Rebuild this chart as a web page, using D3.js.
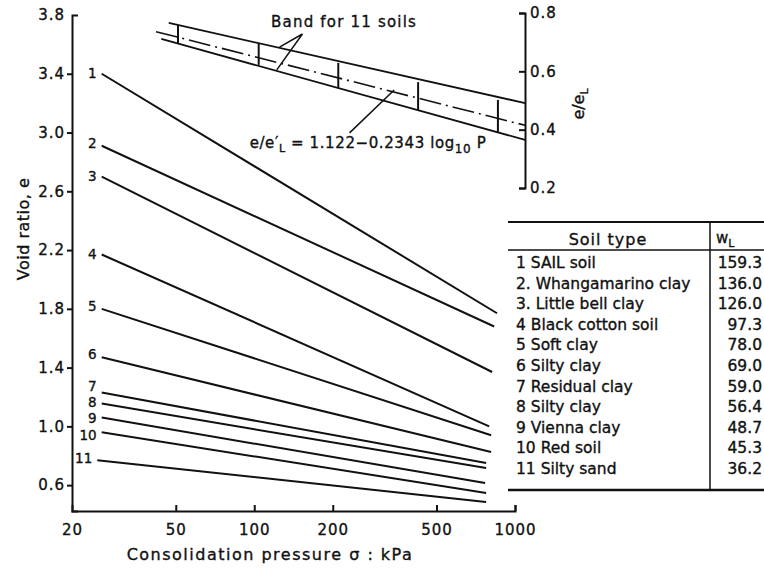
<!DOCTYPE html>
<html>
<head>
<meta charset="utf-8">
<script src="https://cdn.jsdelivr.net/npm/d3@7"></script>
<style>
  html, body { margin: 0; padding: 0; background: #fff; }
  svg { display: block; font-family: 'DejaVu Sans', sans-serif; }
  svg text { fill: #111; stroke: #111; stroke-width: 0.35px; }
  .axis path, .axis line { stroke: #111; stroke-width: 2; }
  .axis text { font-size: 15px; font-family: 'DejaVu Sans', sans-serif; letter-spacing: 1px; }
</style>
</head>
<body>
<div id="chart"></div>
<script>
// e - log p lines for 11 soils
const soilIds = [1, 2, 3, 4, 5, 6, 7, 8, 9, 10, 11];
const pStart = [26, 26, 26, 26, 26, 26, 26, 26, 26, 26, 25];
const eStart = [3.40, 2.91, 2.70, 2.17, 1.80, 1.47, 1.23, 1.155, 1.06, 0.96, 0.77];
const pEnd = [853, 832, 817, 796, 810, 810, 775, 775, 768, 775, 775];
const eEnd = [1.77, 1.68, 1.37, 1.00, 0.94, 0.825, 0.75, 0.716, 0.614, 0.546, 0.485];
// small vertical nudges (px) so the crowded number labels don't collide
const labelNudge = [0, -2, 0, 0, -2, -3, -6, -1, 1, 3, -2];

// normalised band (e/eL) for all soils
const bandUpperP = [47, 1093], bandUpper = [0.766, 0.491];
const bandLowerP = [44, 1093], bandLower = [0.711, 0.365];
const bandMidP = [42, 1093], bandMid = [0.736, 0.415];
const barP = [51, 104, 210, 425, 860];
const barTop = [0.759, 0.697, 0.629, 0.563, 0.502];
const barBottom = [0.697, 0.622, 0.543, 0.467, 0.389];

// table
const soilTypes = ['1 SAIL soil', '2. Whangamarino clay', '3. Little bell clay', '4 Black cotton soil',
  '5 Soft clay', '6 Silty clay', '7 Residual clay', '8 Silty clay', '9 Vienna clay', '10 Red soil', '11 Silty sand'];
const liquidLimit = ['159.3', '136.0', '126.0', '97.3', '78.0', '69.0', '59.0', '56.4', '48.7', '45.3', '36.2'];

// ticks
const pTicks = [20, 50, 100, 200, 500, 1000];
const eTicks = [0.6, 1.0, 1.4, 1.8, 2.2, 2.6, 3.0, 3.4, 3.8];
const ratioTicks = [0.2, 0.4, 0.6, 0.8];

const W = 764, H = 571;
const svg = d3.select('#chart').append('svg').attr('width', W).attr('height', H);

const x = d3.scaleLog().domain([20, 1000]).range([72, 515]);
const y = d3.scaleLinear().domain([0.424, 3.8]).range([511, 15]);
const yR = d3.scaleLinear().domain([0.2, 0.8]).range([188, 13]);
const rightAxisX = 525;

// left axis
const gy = svg.append('g').attr('class', 'axis')
    .attr('transform', `translate(${x(20)},0)`)
    .call(d3.axisLeft(y).tickValues(eTicks).tickFormat(d3.format('.1f'))
        .tickSizeInner(5).tickSizeOuter(-6).tickPadding(2));
gy.selectAll('.tick').filter(d => d === 3.8).select('line').remove();

// bottom axis
const gx = svg.append('g').attr('class', 'axis')
    .attr('transform', `translate(0,${y(0.424)})`)
    .call(d3.axisBottom(x).tickValues(pTicks).tickFormat(d3.format('d'))
        .tickSizeInner(-6).tickSizeOuter(-6).tickPadding(13));
gx.selectAll('.tick').filter(d => d === 20).select('line').remove();

// right axis (e/eL)
svg.append('g').attr('class', 'axis')
    .attr('transform', `translate(${rightAxisX},0)`)
    .call(d3.axisRight(yR).tickValues(ratioTicks).tickFormat(d3.format('.1f'))
        .tickSizeInner(-6).tickSizeOuter(-6).tickPadding(5));

svg.selectAll('.axis .domain').attr('fill', 'none');

// axis titles
svg.append('text')
    .attr('transform', `translate(29,229) rotate(-90)`)
    .attr('text-anchor', 'middle')
    .style('font-size', '16px').style('letter-spacing', '0.5px')
    .text('Void ratio, e');

svg.append('text')
    .attr('x', 270).attr('y', 560)
    .attr('text-anchor', 'middle')
    .style('font-size', '16px').style('letter-spacing', '1.5px')
    .text('Consolidation pressure σ : kPa');

const rl = svg.append('text')
    .attr('transform', `translate(584,104) rotate(-90)`)
    .attr('text-anchor', 'middle')
    .style('font-size', '16px');
rl.append('tspan').text('e/e');
rl.append('tspan').attr('dy', 4).style('font-size', '11px').text('L');

// soil lines
const soils = soilIds.map((id, i) => ({ id, p0: pStart[i], e0: eStart[i], p1: pEnd[i], e1: eEnd[i], nudge: labelNudge[i] }));

svg.append('g').selectAll('line')
    .data(soils)
    .join('line')
    .attr('x1', d => x(d.p0)).attr('y1', d => y(d.e0))
    .attr('x2', d => x(d.p1)).attr('y2', d => y(d.e1))
    .attr('stroke', '#111').attr('stroke-width', 2);

svg.append('g').selectAll('text')
    .data(soils)
    .join('text')
    .attr('x', d => x(d.p0) - 5)
    .attr('y', d => y(d.e0) + d.nudge)
    .attr('dy', '0.33em')
    .attr('text-anchor', 'end')
    .style('font-size', '13.5px')
    .text(d => d.id);

// band
const band = svg.append('g').attr('stroke', '#111').attr('fill', 'none');
band.append('line')
    .attr('x1', x(bandUpperP[0])).attr('y1', yR(bandUpper[0]))
    .attr('x2', x(bandUpperP[1])).attr('y2', yR(bandUpper[1]))
    .attr('stroke-width', 1.8);
band.append('line')
    .attr('x1', x(bandLowerP[0])).attr('y1', yR(bandLower[0]))
    .attr('x2', x(bandLowerP[1])).attr('y2', yR(bandLower[1]))
    .attr('stroke-width', 1.8);
band.append('line')
    .attr('x1', x(bandMidP[0])).attr('y1', yR(bandMid[0]))
    .attr('x2', x(bandMidP[1])).attr('y2', yR(bandMid[1]))
    .attr('stroke-width', 1.6)
    .attr('stroke-dasharray', '22,5,2,5');
band.selectAll('.bar')
    .data(barP)
    .join('line')
    .attr('class', 'bar')
    .attr('x1', d => x(d)).attr('x2', d => x(d))
    .attr('y1', (d, i) => yR(barTop[i])).attr('y2', (d, i) => yR(barBottom[i]))
    .attr('stroke-width', 2);

// annotations
const apex = [x(153), yR(0.728)];
svg.append('path')
    .attr('d', `M${x(125)},${yR(0.683)}L${apex[0]},${apex[1]}L${x(122)},${yR(0.605)}`)
    .attr('fill', 'none').attr('stroke', '#111').attr('stroke-width', 1.5);
svg.append('text')
    .attr('x', x(116)).attr('y', yR(0.752))
    .style('font-size', '15px').style('letter-spacing', '1.2px')
    .text('Band for 11 soils');

svg.append('line')
    .attr('x1', x(232)).attr('y1', yR(0.389))
    .attr('x2', x(344)).attr('y2', yR(0.536))
    .attr('stroke', '#111').attr('stroke-width', 1.5);
const eq = svg.append('text')
    .attr('x', x(96)).attr('y', yR(0.337))
    .style('font-size', '15px').style('letter-spacing', '0.6px');
eq.append('tspan').text('e/e′');
eq.append('tspan').attr('dy', 4).style('font-size', '11px').text('L');
eq.append('tspan').attr('dy', -4).text(' = 1.122−0.2343 log');
eq.append('tspan').attr('dy', 5).style('font-size', '12px').text('10');
eq.append('tspan').attr('dy', -5).text(' P');

// table
const tLeft = 508, tRight = 764, tDiv = 710;
const tTop = 222, tHead = 250, tBottom = 490;
const rowY = d3.scaleLinear().domain([0, soilTypes.length - 1]).range([268, 474]);
const table = svg.append('g');
table.append('line').attr('x1', tLeft).attr('x2', tRight).attr('y1', tTop).attr('y2', tTop)
    .attr('stroke', '#111').attr('stroke-width', 2);
table.append('line').attr('x1', tLeft).attr('x2', tRight).attr('y1', tHead).attr('y2', tHead)
    .attr('stroke', '#111').attr('stroke-width', 1.5);
table.append('line').attr('x1', tLeft).attr('x2', tRight).attr('y1', tBottom).attr('y2', tBottom)
    .attr('stroke', '#111').attr('stroke-width', 2.5);
table.append('line').attr('x1', tDiv).attr('x2', tDiv).attr('y1', tTop).attr('y2', tBottom)
    .attr('stroke', '#111').attr('stroke-width', 1.5);

table.append('text').attr('x', 608).attr('y', 245).attr('text-anchor', 'middle')
    .style('font-size', '16px').style('letter-spacing', '1px').text('Soil type');
const wl = table.append('text').attr('x', 716).attr('y', 243).style('font-size', '15px');
wl.append('tspan').text('w');
wl.append('tspan').attr('dy', 4).style('font-size', '11px').text('L');

table.selectAll('.name')
    .data(soilTypes)
    .join('text')
    .attr('class', 'name')
    .attr('x', 516)
    .attr('y', (d, i) => rowY(i))
    .style('font-size', '15.5px')
    .text(d => d);

table.selectAll('.wl')
    .data(liquidLimit)
    .join('text')
    .attr('class', 'wl')
    .attr('x', 762)
    .attr('y', (d, i) => rowY(i))
    .attr('text-anchor', 'end')
    .style('font-size', '15.5px')
    .text(d => d);
</script>
</body>
</html>
